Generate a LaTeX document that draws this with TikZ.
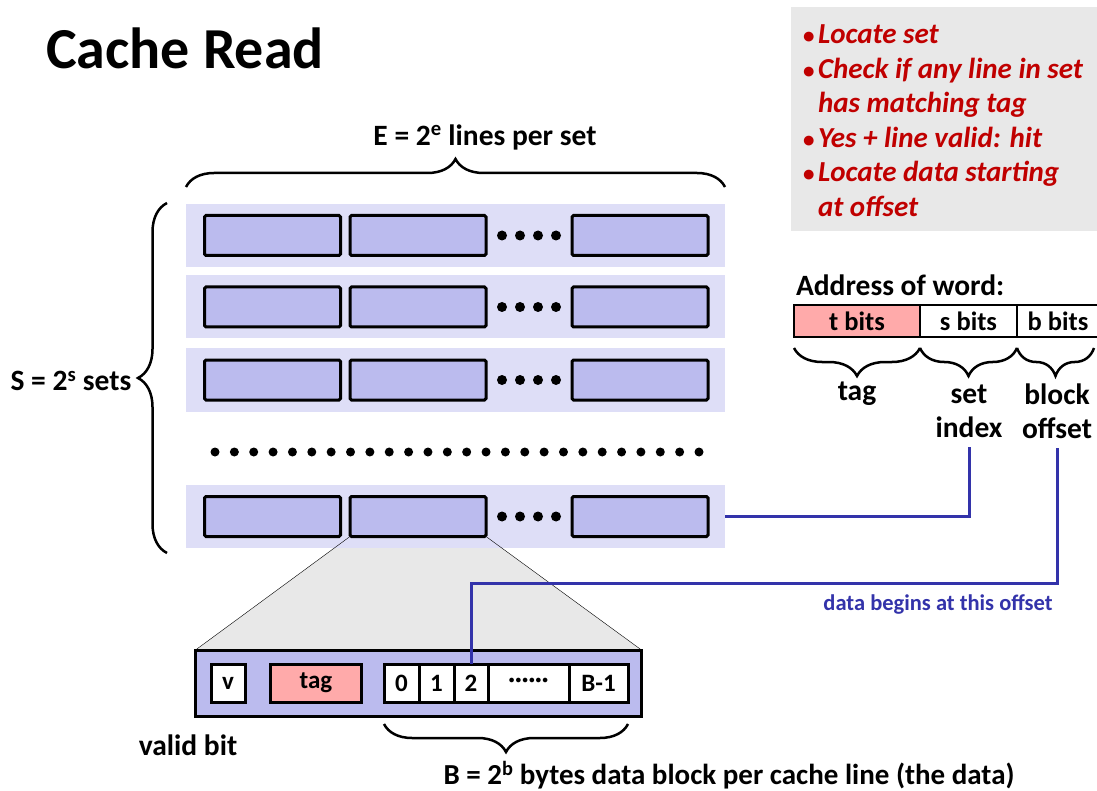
\documentclass[tikz,border=0pt]{standalone}
\usepackage{fontspec}
\setmainfont{Carlito}
\usetikzlibrary{calc}
\usetikzlibrary{positioning}
\usetikzlibrary{decorations.pathreplacing}
\usetikzlibrary{backgrounds}
\definecolor{SetBack}{HTML}{DEDEF7}
\definecolor{LineFill}{HTML}{BBBBEE}
\definecolor{TagPink}{HTML}{FFAAAA}
\definecolor{NoteGray}{HTML}{E8E8E8}
\definecolor{NoteRed}{HTML}{C00000}
\definecolor{LinkBlue}{HTML}{3333AA}
\newcommand{\notebul}{\makebox[15pt][l]{\upshape\fontsize{23}{23}\selectfont\textbullet}}

\begin{document}
\begin{tikzpicture}[x=1pt, y=-1pt,
  every node/.style={inner sep=0pt, outer sep=0pt},
  lbl/.style={font=\bfseries\fontsize{29.5}{34}\selectfont},
  setrow/.style={fill=SetBack, minimum width=539, minimum height=63},
  linebox/.style={draw, line width=3pt, fill=LineFill, rounded corners=1.5pt,
    minimum width=136, minimum height=40},
  cell/.style={draw, line width=3pt, fill=white, minimum height=38,
    font=\bfseries\fontsize{25}{28}\selectfont},
  addr/.style={draw, line width=1.5pt, fill=white, minimum height=32,
    font=\bfseries\fontsize{26.5}{30}\selectfont},
  curly/.style={decorate, decoration={brace, amplitude=#1}, line width=2.5pt},
  link/.style={LinkBlue, line width=3pt}]

  \useasboundingbox (0,0) rectangle (1097,791);

  \node[anchor=west, font=\bfseries\fontsize{58}{62}\selectfont] (Title) at (46,48) {Cache Read};

  \foreach \r/\y in {1/235.5,2/307,3/380,4/516.5}{%
    \node[setrow] (Set\r) at (455.5,\y) {};
    \node[linebox] (LineA\r) at (272.5,\y) {};
    \node[linebox] (LineB\r) at (418,\y) {};
    \node[linebox] (LineC\r) at (640,\y) {};
    \foreach \d in {0,...,3}{%
      \fill (502+18*\d,\y) circle (5);
    }
  }

  \foreach \i in {0,...,25}{%
    \fill (215+19.36*\i,452) circle (4.5);
  }

  \draw[curly=28pt] ($(Set1.north west)+(0,-17)$) -- ($(Set1.north east)+(0,-17)$);
  \node[lbl] (LinesLbl) at (485,137) {E = 2\textsuperscript{e} lines per set};

  \draw[curly=29pt] ($(Set4.south west)+(-19,5)$) -- ($(Set1.north west)+(-19,-1)$);
  \node[lbl] (SetsLbl) at (71,381) {S = 2\textsuperscript{s} sets};

  \node[draw, line width=3pt, fill=LineFill, minimum width=446, minimum height=66] (Expand) at (418.5,683) {};
  \begin{scope}[on background layer]
    \fill[NoteGray] (LineB4.south west) -- (LineB4.south east)
      -- (Expand.north east) -- (Expand.north west) -- cycle;
  \end{scope}
  \draw[thin] (LineB4.south west) -- (Expand.north west);
  \draw[thin] (LineB4.south east) -- (Expand.north east);

  \node[cell, minimum width=34] (Valid) at (228,683) {v};
  \node[cell, fill=TagPink, minimum width=91] (Tag) at (316,683) {tag};
  \node[cell, minimum width=35] (Byte0) at (401.5,683) {0};
  \node[cell, minimum width=35, right=0pt of Byte0] (Byte1) {1};
  \node[cell, minimum width=34, right=0pt of Byte1] (Byte2) {2};
  \node[cell, minimum width=81, right=0pt of Byte2] (ByteDots) {······};
  \node[cell, minimum width=59, right=0pt of ByteDots] (ByteLast) {B-1};

  \node[lbl] (ValidLbl) at (188,745) {valid bit};
  \draw[curly=28pt] ($(ByteLast.south east)+(0,22)$) -- ($(Byte0.south west)+(0,22)$);
  \node[lbl, font=\bfseries\fontsize{29}{34}\selectfont] (DataLbl) at (729,775) {B = 2\textsuperscript{b} bytes data block per cache line (the data)};

  \node[fill=NoteGray, anchor=north west, minimum width=310, minimum height=224] (Note) at (791,7) {};
  \node[anchor=north west, align=left, text=NoteRed,
    font=\bfseries\itshape\fontsize{29}{34.5}\selectfont] (NoteTxt) at (803,25) {%
    \notebul Locate set\\
    \notebul Check if any line in set\\
    \hspace*{15pt}has matching tag\\
    \notebul Yes + line valid: hit\\
    \notebul Locate data starting\\
    \hspace*{15pt}at offset};

  \node[lbl, anchor=west] (AddrLbl) at (796,285) {Address of word:};
  \node[addr, fill=TagPink, minimum width=126] (TBits) at (857,321) {t bits};
  \node[addr, minimum width=97, right=0pt of TBits] (SBits) {s bits};
  \node[addr, minimum width=82, right=0pt of SBits] (BBits) {b bits};

  \draw[curly=28pt] ($(TBits.south east)+(0,11)$) -- ($(TBits.south west)+(0,11)$);
  \draw[curly=28pt] ($(SBits.south east)+(0,11)$) -- ($(SBits.south west)+(0,11)$);
  \draw[curly=28pt] ($(BBits.south east)+(-5,11)$) -- ($(BBits.south west)+(0,11)$);

  \node[lbl] (TagLbl) at (857,394) {tag};
  \node[lbl, align=center] (SetIdx) at (969,411) {set\\index};
  \node[lbl, align=center] (BlkOff) at (1057,411) {block\\offset};

  \draw[link] ([yshift=-10pt]SetIdx.south) |- (Set4.east);
  \coordinate (Bend) at (Byte2.north |- 0,583);
  \draw[link] ([yshift=-10pt]BlkOff.south) |- (Bend) -- (Byte2.north);
  \node[text=LinkBlue, font=\bfseries\fontsize{22.5}{26}\selectfont] (LinkLbl) at (938,604) {data begins at this offset};
\end{tikzpicture}
\end{document}
